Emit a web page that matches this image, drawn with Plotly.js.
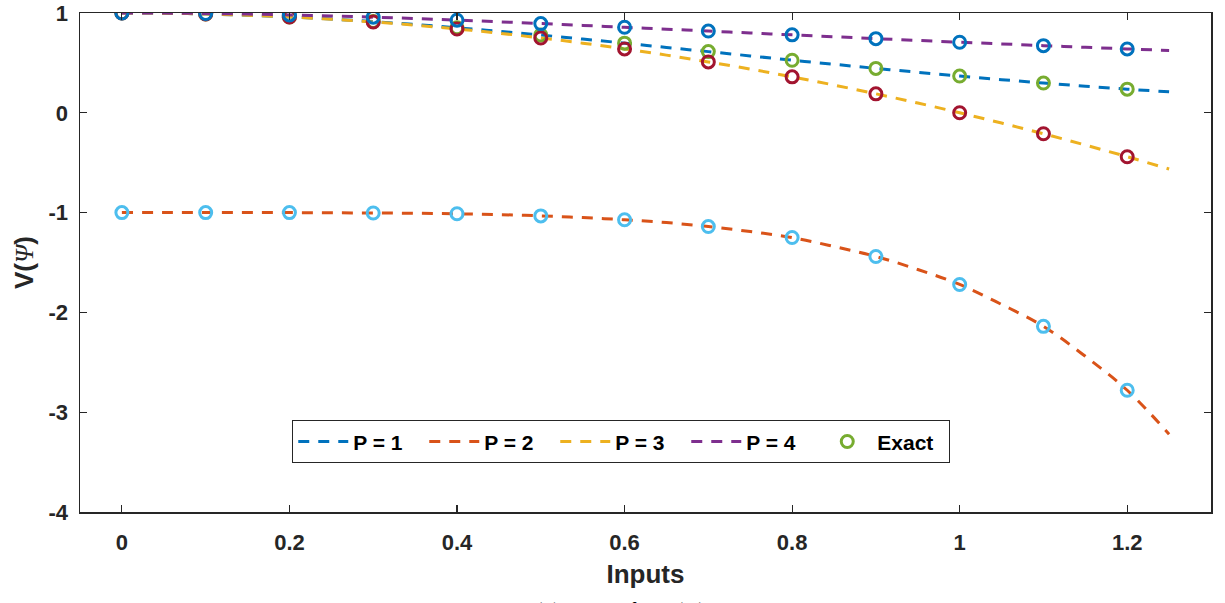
<!DOCTYPE html>
<html>
<head>
<meta charset="utf-8">
<script src="https://cdn.plot.ly/plotly-3.0.1.min.js"></script>
<style>html,body{margin:0;padding:0;background:#fff;}#chart{width:1225px;height:603px;}</style>
</head>
<body>
<div id="chart"></div>
<script>
// Curve sample positions (lines)
const lineX = [0,0.05,0.1,0.15,0.2,0.25,0.3,0.35,0.4,0.45,0.5,0.55,0.6,0.65,0.7,0.75,0.8,0.85,0.9,0.95,1.0,1.05,1.1,1.15,1.2,1.25];
const p1Line = [1,0.998,0.990,0.978,0.961,0.939,0.914,0.885,0.852,0.817,0.779,0.739,0.698,0.655,0.613,0.570,0.527,0.486,0.445,0.406,0.368,0.332,0.298,0.266,0.237,0.210];
const p2Line = [-1,-1.0,-1.0,-1.0,-1.0,-1.002,-1.004,-1.007,-1.012,-1.02,-1.033,-1.05,-1.072,-1.10,-1.14,-1.19,-1.25,-1.34,-1.44,-1.57,-1.72,-1.92,-2.14,-2.44,-2.78,-3.22];
const p3Line = [1,0.998,0.99,0.978,0.96,0.938,0.91,0.878,0.84,0.798,0.75,0.698,0.64,0.578,0.51,0.438,0.36,0.278,0.19,0.098,0.0,-0.103,-0.21,-0.323,-0.44,-0.563];
const p4Line = [1,0.999,0.995,0.989,0.981,0.970,0.958,0.944,0.928,0.912,0.894,0.876,0.857,0.838,0.819,0.800,0.781,0.762,0.743,0.725,0.707,0.690,0.673,0.656,0.640,0.625];

// Marker sample positions
const ptX = [0,0.1,0.2,0.3,0.4,0.5,0.6,0.7,0.8,0.9,1.0,1.1,1.2];
const exactPts = [1,0.990,0.961,0.914,0.852,0.779,0.698,0.613,0.527,0.445,0.368,0.298,0.237];
const p2Pts = [-1,-1.0,-1.0,-1.004,-1.012,-1.033,-1.072,-1.14,-1.25,-1.44,-1.72,-2.14,-2.78];
const p3Pts = [1,0.99,0.96,0.91,0.84,0.75,0.64,0.51,0.36,0.19,0.0,-0.21,-0.44];
const p4Pts = [1,0.995,0.981,0.958,0.928,0.894,0.857,0.819,0.781,0.743,0.707,0.673,0.640];

const xTicks = [0,0.2,0.4,0.6,0.8,1,1.2];
const xTickText = ['0','0.2','0.4','0.6','0.8','1','1.2'];
const yTicks = [-4,-3,-2,-1,0,1];
const yTickText = ['-4','-3','-2','-1','0','1'];

const dashStyle = '11px,9px';
const lw = 3;
function lineTrace(name, y, color){
  return {x: lineX, y: y, name: name, mode: 'lines', type: 'scatter',
    line: {color: color, width: lw, dash: dashStyle, shape: 'spline'}};
}
function markTrace(name, y, color, show){
  return {x: ptX, y: y, name: name, mode: 'markers', type: 'scatter', showlegend: show,
    marker: {symbol: 'circle-open', size: 12, color: color, line: {width: 3, color: color}}};
}

const traces = [
  lineTrace('P = 1', p1Line, '#0072BD'),
  lineTrace('P = 2', p2Line, '#D95319'),
  lineTrace('P = 3', p3Line, '#EDB120'),
  lineTrace('P = 4', p4Line, '#7E2F8E'),
  markTrace('Exact', exactPts, '#77AC30', true),
  markTrace('P2 pts', p2Pts, '#4DBEEE', false),
  markTrace('P3 pts', p3Pts, '#A2142F', false),
  markTrace('P4 pts', p4Pts, '#0072BD', false)
];

const fam = 'Liberation Sans, Arial, sans-serif';
const layout = {
  width: 1225, height: 603,
  margin: {l: 80, r: 14, t: 13, b: 91},
  paper_bgcolor: '#fff', plot_bgcolor: '#fff',
  font: {family: fam, size: 22, color: '#262626'},
  showlegend: true,
  xaxis: {
    range: [-0.05, 1.3], tickvals: xTicks, ticktext: xTickText,
    ticks: 'inside', ticklen: 7, tickwidth: 1.2, tickcolor: '#262626',
    showline: true, linecolor: '#262626', linewidth: 1.5, mirror: 'ticks',
    showgrid: false, zeroline: false, ticklabelstandoff: 10,
    tickfont: {family: fam, size: 22, color: '#262626', weight: 'bold'},
    title: {text: '<b>Inputs</b>', font: {family: fam, size: 26, color: '#262626'}, standoff: 11}
  },
  yaxis: {
    range: [-4, 1], tickvals: yTicks, ticktext: yTickText,
    ticks: 'inside', ticklen: 7, tickwidth: 1.2, tickcolor: '#262626',
    showline: true, linecolor: '#262626', linewidth: 1.5, mirror: 'ticks',
    showgrid: false, zeroline: false, ticklabelstandoff: 6,
    tickfont: {family: fam, size: 22, color: '#262626', weight: 'bold'},
    title: {text: '<b>V(</b><span style="font-family:\'Liberation Serif\',serif"><i>Ψ</i></span><b>)</b>', font: {family: fam, size: 26, color: '#262626'}, standoff: 7}
  },
  legend: {
    orientation: 'h', x: 0.1875, xanchor: 'left', y: 0.184, yanchor: 'top',
    bgcolor: '#fff', bordercolor: '#262626', borderwidth: 1.2,
    font: {family: fam, size: 21, color: '#000', weight: 'bold'},
    itemwidth: 50, entrywidth: 66, entrywidthmode: 'pixels', tracegroupgap: 0
  },
  annotations: [{
    xref: 'paper', yref: 'paper', x: 0.478, y: -0.166, xanchor: 'center', yanchor: 'top',
    text: '(b) results for V(<i>Ψ</i>)', showarrow: false,
    font: {family: 'Liberation Serif, Times New Roman, serif', size: 22, color: '#000'}
  }]
};

Plotly.newPlot('chart', traces, layout, {displayModeBar: false, staticPlot: true});
</script>
</body>
</html>
